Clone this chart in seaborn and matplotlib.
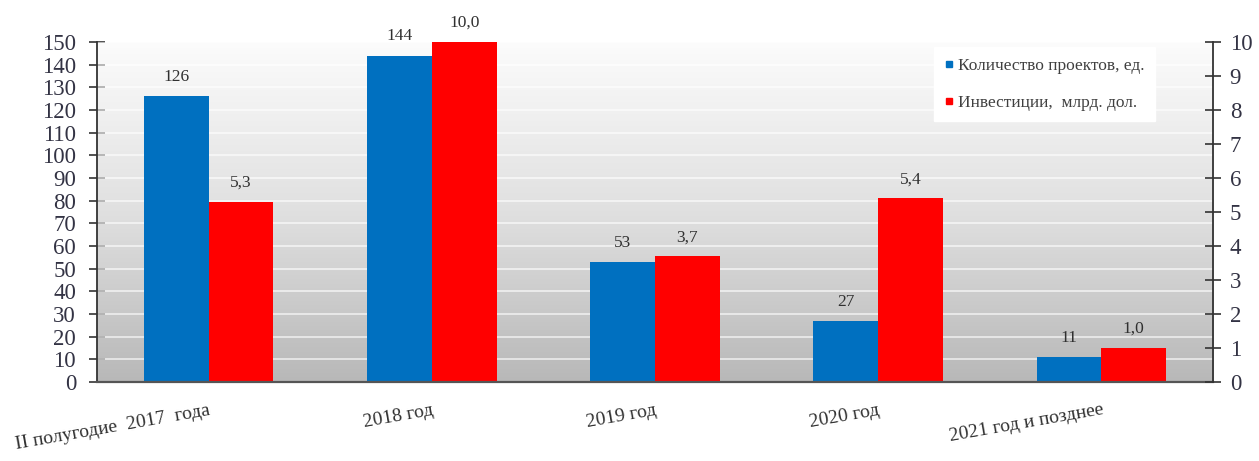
import numpy as np
import pandas as pd
import matplotlib
matplotlib.use("Agg")
import matplotlib.pyplot as plt
from matplotlib.lines import Line2D
import seaborn as sns

# values
categories = ["II полугодие  2017  года", "2018 год", "2019 год",
              "2020 год", "2021 год и позднее"]
projects = [126, 144, 53, 27, 11]
investments = [5.3, 10.0, 3.7, 5.4, 1.0]
series_names = ["Количество проектов, ед.", "Инвестиции,  млрд. дол."]
left_ticks = list(range(0, 151, 10))
right_ticks = list(range(0, 11))

colors = ["#0070C0", "#FF0000"]
scale = left_ticks[-1] / right_ticks[-1]  # both axes share one height

df = pd.DataFrame({
    "category": categories * 2,
    "series": [series_names[0]] * len(categories) + [series_names[1]] * len(categories),
    "value": projects + [v * scale for v in investments],
})

sns.set_style("white")
plt.rcParams["font.family"] = ["Liberation Serif", "DejaVu Serif"]

fig = plt.figure(figsize=(12.59, 4.61), dpi=100)
ax = fig.add_axes([0.077, 0.171, 0.8865, 0.738])

# grey gradient behind the bars
grad = np.linspace(0, 1, 256).reshape(-1, 1)
ax.imshow(grad, extent=[-0.5, 4.5, 0, 150], aspect="auto", origin="upper",
          cmap=matplotlib.colors.LinearSegmentedColormap.from_list(
              "bg", ["#fcfcfc", "#e0e0e0", "#b8b8b8"]),
          zorder=0)

sns.barplot(data=df, x="category", y="value", hue="series", palette=colors,
            width=0.58, saturation=1, gap=0, linewidth=0, ax=ax, legend=False, zorder=2)

ax.set_xlim(-0.5, 4.5)
ax.set_ylim(0, 150)
ax.set_yticks(left_ticks)
for t in left_ticks[1:]:
    ax.axhline(t, color="white", lw=1.2, alpha=0.7, zorder=1)

ax.bar_label(ax.containers[0], labels=[str(v) for v in projects],
             padding=8, fontsize=12.5, color="#303030")
ax.bar_label(ax.containers[1], labels=[f"{v:.1f}".replace(".", ",") for v in investments],
             padding=8, fontsize=12.5, color="#303030")

ax.set_xlabel("")
ax.set_ylabel("")
ax.set_xticks(range(len(categories)))
ax.set_xticklabels(categories, rotation=10, fontsize=14, color="#303030",
                   ha="right", va="top", rotation_mode="anchor")
ax.tick_params(axis="x", length=0, pad=14)
ax.set_xticks([i + 0.5 for i in range(len(categories) - 1)], minor=True)
ax.tick_params(axis="x", which="minor", length=8, width=1.2, color="#333333", direction="inout")
ax.tick_params(axis="y", direction="inout", length=12, width=1.2, color="#333333",
               labelsize=16.5, labelcolor="#333344", pad=9)

for s in ["top", "right"]:
    ax.spines[s].set_visible(False)
ax.spines["left"].set_color("#333333")
ax.spines["left"].set_linewidth(1.3)
ax.spines["bottom"].set_color("#555555")
ax.spines["bottom"].set_linewidth(1.6)

ax2 = ax.twinx()
ax2.set_ylim(right_ticks[0], right_ticks[-1])
ax2.set_yticks(right_ticks)
ax2.tick_params(axis="y", direction="inout", length=12, width=1.2, color="#333333",
                labelsize=16.5, labelcolor="#333344", pad=6)
for s in ["top", "left", "bottom"]:
    ax2.spines[s].set_visible(False)
ax2.spines["right"].set_color("#333333")
ax2.spines["right"].set_linewidth(1.3)

handles = [Line2D([], [], marker="s", ls="none", color=c, markersize=5) for c in colors]
leg = ax.legend(handles, series_names, loc="upper right", bbox_to_anchor=(0.948, 0.985),
                frameon=True, fancybox=False, fontsize=12.5, labelspacing=1.2,
                handletextpad=0.2, handlelength=0.6, borderpad=0.6, borderaxespad=0)
leg.get_frame().set_facecolor("white")
leg.get_frame().set_edgecolor("white")
leg.get_frame().set_alpha(1)
for t in leg.get_texts():
    t.set_color("#404040")

fig.savefig("out.png", dpi=100)
